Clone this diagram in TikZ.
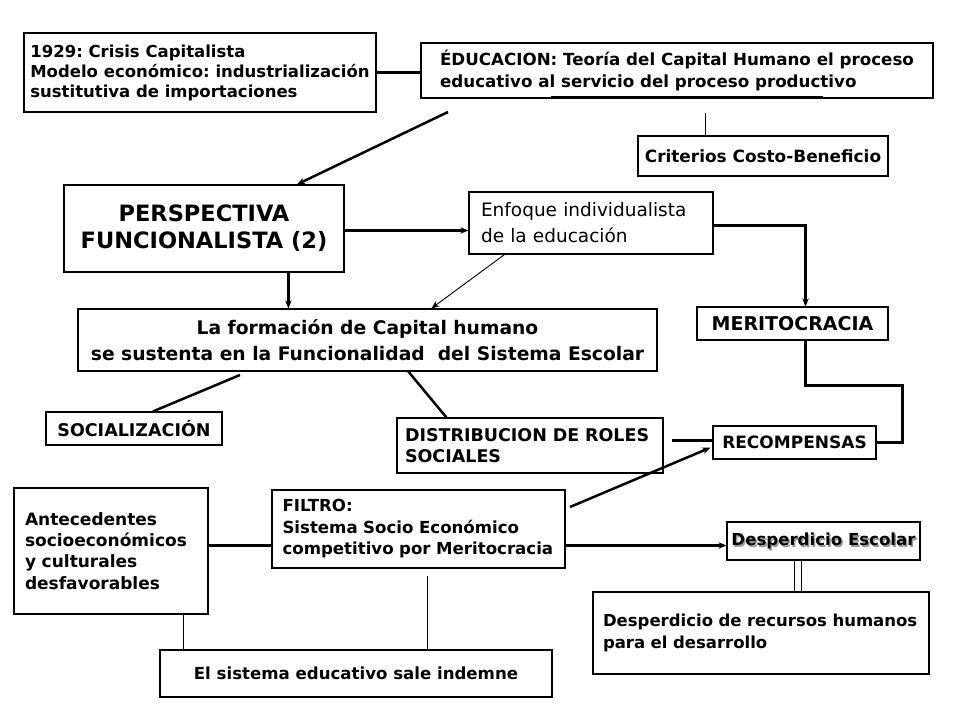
\documentclass[tikz,border=0pt]{standalone}
\usepackage{fontspec}
\setmainfont{DejaVu Sans}
\usetikzlibrary{arrows.meta,calc}
\frenchspacing
\begin{document}
\begin{tikzpicture}[x=1pt,y=-1pt,
  box/.style={draw, line width=1.2pt, inner sep=0pt, minimum height=#1},
  fs/.style n args={2}{font=\bfseries\fontsize{#1}{#2}\selectfont},
  thinln/.style={line width=0.9pt},
  medln/.style={line width=2.5pt},
  thickln/.style={line width=3pt},
  arr/.style={-{Stealth[length=8pt,width=6.5pt]}},
]
\useasboundingbox (0,0) rectangle (960,720);
% nodes
\node[box=79, minimum width=352, align=left, fs={16.5}{20}] (b1929) at (200,72.5)
  {1929: Crisis Capitalista\\Modelo económico: industrialización\\sustitutiva de importaciones};
\node[box=55, minimum width=512, align=left, fs={16.7}{22}] (edu) at (677,70.5)
  {ÉDUCACION: Teoría del Capital Humano el proceso\\educativo al servicio del proceso productivo};
\node[box=40, minimum width=250, align=center, fs={16.9}{20}] (crit) at (763,156) {Criterios Costo-Beneficio};
\node[box=87, minimum width=280, align=center, fs={22.5}{27}] (persp) at (204,228.5) {PERSPECTIVA\\FUNCIONALISTA (2)};
\node[box=62, minimum width=244, text width=220, align=left, font=\fontsize{18.5}{26}\selectfont] (enf) at (591,223)
  {Enfoque individualista\\de la educación};
\node[box=33, minimum width=191, align=center, fs={19}{20}] (merit) at (792.5,323.5) {MERITOCRACIA};
\node[box=62, minimum width=579, align=center, fs={18.7}{26}] (form) at (367.5,340)
  {La formación de Capital humano\\se sustenta en la Funcionalidad\ \ del Sistema Escolar};
\node[box=33, minimum width=176, align=center, fs={17.5}{20}] (soc) at (134,428.5) {SOCIALIZACIÓN};
\node[box=55, minimum width=266, text width=250, align=left, fs={17.5}{21}] (dist) at (530,445.5)
  {\mbox{DISTRIBUCION DE ROLES}\\SOCIALES};
\node[box=33, minimum width=163, align=center, fs={17}{20}] (rec) at (794.5,442.5) {RECOMPENSAS};
\node[box=126, minimum width=194, text width=172, align=left, fs={17}{21.3}] (ante) at (111,551)
  {Antecedentes\\\mbox{socioeconómicos}\\y culturales\\desfavorables};
\node[box=78, minimum width=293, text width=272, align=left, fs={16.6}{21.5}] (filt) at (418.5,529)
  {FILTRO:\\\mbox{Sistema Socio Económico}\\\mbox{competitivo por Meritocracia}};
\node[fs={16.6}{20}, text=black!40, inner sep=0pt] (desEs) at (825,542.5) {Desperdicio Escolar};
\node[box=38, minimum width=193, align=center, fs={16.6}{20}] (desE) at (823.5,541) {Desperdicio Escolar};
\node[box=82, minimum width=336, text width=316, align=left, fs={16.5}{22}] (desR) at (761,633)
  {\mbox{Desperdicio de recursos humanos}\\para el desarrollo};
\node[box=47, minimum width=392, align=center, fs={16.6}{20}] (indem) at (356,673.5) {El sistema educativo sale indemne};
% connectors
\draw[thickln] (b1929.east) -- (b1929.east -| edu.west);
\coordinate (ul1) at (551,96.5);
\coordinate (ul2) at (823,96.5);
\draw[thinln] (ul1) -- (ul2);
\coordinate (c1) at (705,113);
\draw[thinln] (c1) -- (c1 |- crit.north);
\coordinate (c2) at (448,112);
\draw[medln,arr] (c2) -- ($(persp.north)+(93,0)$);
\draw[medln,arr] ($(persp.east)+(0,2)$) -- ($(persp.east -| enf.west)+(0,2)$);
\draw[medln,arr] ($(enf.east)+(0,2.5)$) -| ($(merit.north)+(13,0)$);
\draw[thinln,arr] ($(enf.south west)+(36,0)$) -- ($(form.north west)+(354,0)$);
\draw[medln,arr] ($(persp.south west)+(225,0)$) -- ($(form.north west)+(211,0)$);
\coordinate (c3) at (240,375);
\draw[medln] (c3) -- ($(soc.north)+(19,0)$);
\draw[medln] ($(form.south west)+(331,0)$) -- ($(dist.north west)+(50,0)$);
\coordinate (c4) at (672,440);
\draw[thickln] (c4) -- (c4 -| rec.west);
\coordinate (c5) at (902,385);
\draw[thickln] ($(merit.south)+(12.5,0)$) |- (c5) |- (rec.east);
\coordinate (c6) at (570,507);
\draw[medln,arr] (c6) -- ($(rec.south west)+(-2,-12)$);
\draw[medln] ($(ante.east)+(0,-5.5)$) -- ($(filt.west)+(0,16.5)$);
\draw[medln,arr] ($(filt.east)+(0,16.5)$) -- ($(desE.west)+(0,4.5)$);
\draw[thinln] ($(desE.south)+(-29,0)$) -- ($(desR.north)+(33.5,0)$);
\draw[thinln] ($(desE.south)+(-22,0)$) -- ($(desR.north)+(40.5,0)$);
\draw[line width=1pt] ($(ante.south west)+(170,0)$) -- ($(indem.north west)+(24,0)$);
\coordinate (c7) at (427,576);
\draw[line width=1pt] (c7) -- (c7 |- indem.north);
\end{tikzpicture}
\end{document}
